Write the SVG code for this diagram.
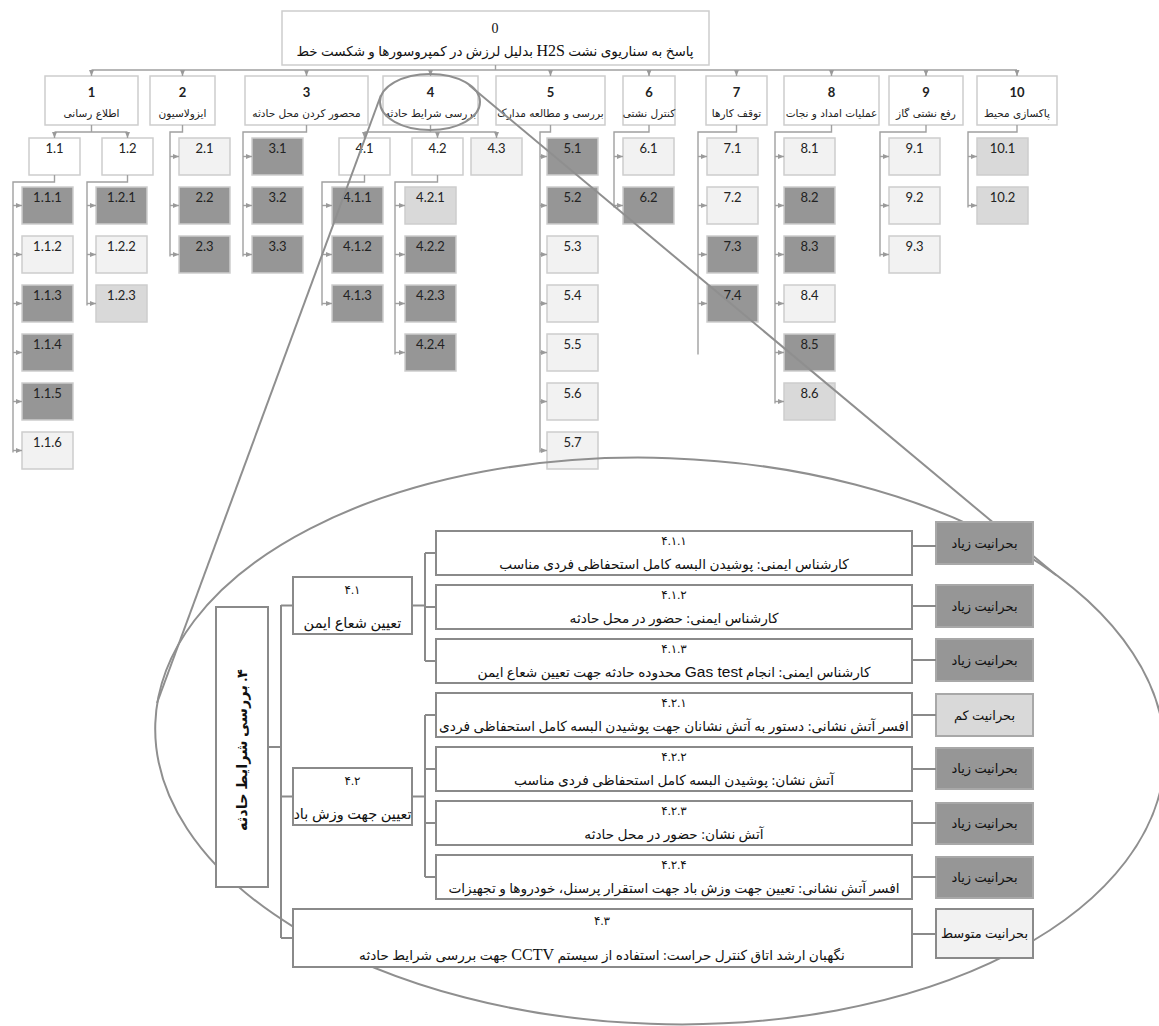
<svg xmlns="http://www.w3.org/2000/svg" width="1159" height="1026" viewBox="0 0 1159 1026">
<defs>
<marker id="ar" viewBox="0 0 6 6" refX="6" refY="3" markerWidth="6" markerHeight="6" markerUnits="userSpaceOnUse" orient="auto"><path d="M0,0.5 L6,3 L0,5.5 z" fill="#9a9a9a"/></marker>
<style>
.b{stroke:#cdcdcd;stroke-width:1.5}
.w{fill:#ffffff}.l{fill:#f2f2f2}.m{fill:#d9d9d9}.d{fill:#969696}
.n{font-family:Lato,'Open Sans',sans-serif;font-size:13px;fill:#222;text-anchor:middle}
.n1{font-family:Lato,'Open Sans',sans-serif;font-size:13px;font-weight:bold;fill:#222;text-anchor:middle}
.fa{font-family:'DejaVu Sans',sans-serif;font-size:10.5px;fill:#222;text-anchor:middle;direction:rtl}
.c{fill:none;stroke:#a0a0a0;stroke-width:1.4}
.a{fill:none;stroke:#a0a0a0;stroke-width:1.4;marker-end:url(#ar)}
.ib{fill:#fff;stroke:#8a8a8a;stroke-width:2}
.ic{fill:none;stroke:#8a8a8a;stroke-width:2}
.it{font-family:'Liberation Serif','DejaVu Sans',serif;font-size:12px;fill:#111;text-anchor:middle;direction:rtl}
.tx{font-size:13.7px}
.sv{font-size:13px}
.sd{fill:#969696;stroke:#a8a8a8;stroke-width:2}
.sm{fill:#d9d9d9;stroke:#a8a8a8;stroke-width:2}
.sl{fill:#f2f2f2;stroke:#8a8a8a;stroke-width:2}
.zo{fill:none;stroke:#8f8f8f;stroke-width:2}
</style>
</defs>

<!-- root -->
<g id="n0">
<rect x="282" y="11" width="427" height="54" class="b w"/>
<text x="495" y="33" font-family="'Liberation Serif',serif" font-size="14" text-anchor="middle" fill="#111">0</text>
<text x="495" y="56" class="it" style="font-size:13.5px">پاسخ به سناریوی نشت <tspan font-family="'Liberation Serif',serif" font-size="16">H2S</tspan> بدلیل لرزش در کمپروسورها و شکست خط</text>
</g>

<!-- level 1 -->
<g id="n1"><rect x="45" y="76" width="93" height="49" class="b w"/><text x="91.5" y="97" class="n1">1</text><text x="91.5" y="117" class="fa">اطلاع رسانی</text></g>
<g id="n2"><rect x="150" y="76" width="65" height="49" class="b w"/><text x="182.5" y="97" class="n1">2</text><text x="182.5" y="117" class="fa">ایزولاسیون</text></g>
<g id="n3"><rect x="245" y="76" width="123" height="49" class="b w"/><text x="306.5" y="97" class="n1">3</text><text x="306.5" y="117" class="fa">محصور کردن محل حادثه</text></g>
<g id="n4"><rect x="383" y="76" width="95" height="49" class="b w"/><text x="430.5" y="97" class="n1">4</text><text x="430.5" y="117" class="fa">بررسی شرایط حادثه</text></g>
<g id="n5"><rect x="496" y="76" width="109" height="49" class="b w"/><text x="550.5" y="97" class="n1">5</text><text x="550.5" y="117" class="fa">بررسی و مطالعه مدارک</text></g>
<g id="n6"><rect x="623" y="76" width="52" height="49" class="b w"/><text x="649" y="97" class="n1">6</text><text x="649" y="117" class="fa">کنترل نشتی</text></g>
<g id="n7"><rect x="706" y="76" width="61" height="49" class="b w"/><text x="736.5" y="97" class="n1">7</text><text x="736.5" y="117" class="fa">توقف کارها</text></g>
<g id="n8"><rect x="784" y="76" width="95" height="49" class="b w"/><text x="831.5" y="97" class="n1">8</text><text x="831.5" y="117" class="fa">عملیات امداد و نجات</text></g>
<g id="n9"><rect x="889" y="76" width="74" height="49" class="b w"/><text x="926" y="97" class="n1">9</text><text x="926" y="117" class="fa">رفع نشتی گاز</text></g>
<g id="n10"><rect x="977" y="76" width="80" height="49" class="b w"/><text x="1017" y="97" class="n1">10</text><text x="1017" y="117" class="fa">پاکسازی محیط</text></g>

<!-- level 2/3 boxes -->
<g id="n1.1"><rect x="29" y="138" width="51" height="37" class="b w"/><text x="54.5" y="153" class="n">1.1</text></g>
<g id="n1.2"><rect x="102" y="138" width="51" height="37" class="b w"/><text x="127.5" y="153" class="n">1.2</text></g>
<g id="n1.1.1"><rect x="22" y="187" width="51" height="37" class="b d"/><text x="47.5" y="202" class="n">1.1.1</text></g>
<g id="n1.1.2"><rect x="22" y="236" width="51" height="37" class="b l"/><text x="47.5" y="251" class="n">1.1.2</text></g>
<g id="n1.1.3"><rect x="22" y="285" width="51" height="37" class="b d"/><text x="47.5" y="300" class="n">1.1.3</text></g>
<g id="n1.1.4"><rect x="22" y="334" width="51" height="37" class="b d"/><text x="47.5" y="349" class="n">1.1.4</text></g>
<g id="n1.1.5"><rect x="22" y="383" width="51" height="37" class="b d"/><text x="47.5" y="398" class="n">1.1.5</text></g>
<g id="n1.1.6"><rect x="22" y="432" width="51" height="37" class="b l"/><text x="47.5" y="447" class="n">1.1.6</text></g>
<g id="n1.2.1"><rect x="96" y="187" width="51" height="37" class="b d"/><text x="121.5" y="202" class="n">1.2.1</text></g>
<g id="n1.2.2"><rect x="96" y="236" width="51" height="37" class="b l"/><text x="121.5" y="251" class="n">1.2.2</text></g>
<g id="n1.2.3"><rect x="96" y="285" width="51" height="37" class="b m"/><text x="121.5" y="300" class="n">1.2.3</text></g>
<g id="n2.1"><rect x="179" y="138" width="51" height="37" class="b l"/><text x="204.5" y="153" class="n">2.1</text></g>
<g id="n2.2"><rect x="179" y="187" width="51" height="37" class="b d"/><text x="204.5" y="202" class="n">2.2</text></g>
<g id="n2.3"><rect x="179" y="236" width="51" height="37" class="b d"/><text x="204.5" y="251" class="n">2.3</text></g>
<g id="n3.1"><rect x="252" y="138" width="51" height="37" class="b d"/><text x="277.5" y="153" class="n">3.1</text></g>
<g id="n3.2"><rect x="252" y="187" width="51" height="37" class="b d"/><text x="277.5" y="202" class="n">3.2</text></g>
<g id="n3.3"><rect x="252" y="236" width="51" height="37" class="b d"/><text x="277.5" y="251" class="n">3.3</text></g>
<g id="n4.1"><rect x="339" y="138" width="51" height="37" class="b w"/><text x="364.5" y="153" class="n">4.1</text></g>
<g id="n4.2"><rect x="412" y="138" width="51" height="37" class="b w"/><text x="437.5" y="153" class="n">4.2</text></g>
<g id="n4.3"><rect x="471" y="138" width="51" height="37" class="b l"/><text x="496.5" y="153" class="n">4.3</text></g>
<g id="n4.1.1"><rect x="332" y="187" width="51" height="37" class="b d"/><text x="357.5" y="202" class="n">4.1.1</text></g>
<g id="n4.1.2"><rect x="332" y="236" width="51" height="37" class="b d"/><text x="357.5" y="251" class="n">4.1.2</text></g>
<g id="n4.1.3"><rect x="332" y="285" width="51" height="37" class="b d"/><text x="357.5" y="300" class="n">4.1.3</text></g>
<g id="n4.2.1"><rect x="405" y="187" width="51" height="37" class="b m"/><text x="430.5" y="202" class="n">4.2.1</text></g>
<g id="n4.2.2"><rect x="405" y="236" width="51" height="37" class="b d"/><text x="430.5" y="251" class="n">4.2.2</text></g>
<g id="n4.2.3"><rect x="405" y="285" width="51" height="37" class="b d"/><text x="430.5" y="300" class="n">4.2.3</text></g>
<g id="n4.2.4"><rect x="405" y="334" width="51" height="37" class="b d"/><text x="430.5" y="349" class="n">4.2.4</text></g>
<g id="n5.1"><rect x="547" y="138" width="51" height="37" class="b d"/><text x="572.5" y="153" class="n">5.1</text></g>
<g id="n5.2"><rect x="547" y="187" width="51" height="37" class="b d"/><text x="572.5" y="202" class="n">5.2</text></g>
<g id="n5.3"><rect x="547" y="236" width="51" height="37" class="b l"/><text x="572.5" y="251" class="n">5.3</text></g>
<g id="n5.4"><rect x="547" y="285" width="51" height="37" class="b l"/><text x="572.5" y="300" class="n">5.4</text></g>
<g id="n5.5"><rect x="547" y="334" width="51" height="37" class="b l"/><text x="572.5" y="349" class="n">5.5</text></g>
<g id="n5.6"><rect x="547" y="383" width="51" height="37" class="b l"/><text x="572.5" y="398" class="n">5.6</text></g>
<g id="n5.7"><rect x="547" y="432" width="51" height="37" class="b l"/><text x="572.5" y="447" class="n">5.7</text></g>
<g id="n6.1"><rect x="623" y="138" width="51" height="37" class="b l"/><text x="648.5" y="153" class="n">6.1</text></g>
<g id="n6.2"><rect x="623" y="187" width="51" height="37" class="b d"/><text x="648.5" y="202" class="n">6.2</text></g>
<g id="n7.1"><rect x="707" y="138" width="51" height="37" class="b l"/><text x="732.5" y="153" class="n">7.1</text></g>
<g id="n7.2"><rect x="707" y="187" width="51" height="37" class="b l"/><text x="732.5" y="202" class="n">7.2</text></g>
<g id="n7.3"><rect x="707" y="236" width="51" height="37" class="b d"/><text x="732.5" y="251" class="n">7.3</text></g>
<g id="n7.4"><rect x="707" y="285" width="51" height="37" class="b d"/><text x="732.5" y="300" class="n">7.4</text></g>
<g id="n8.1"><rect x="784" y="138" width="51" height="37" class="b l"/><text x="809.5" y="153" class="n">8.1</text></g>
<g id="n8.2"><rect x="784" y="187" width="51" height="37" class="b d"/><text x="809.5" y="202" class="n">8.2</text></g>
<g id="n8.3"><rect x="784" y="236" width="51" height="37" class="b d"/><text x="809.5" y="251" class="n">8.3</text></g>
<g id="n8.4"><rect x="784" y="285" width="51" height="37" class="b l"/><text x="809.5" y="300" class="n">8.4</text></g>
<g id="n8.5"><rect x="784" y="334" width="51" height="37" class="b d"/><text x="809.5" y="349" class="n">8.5</text></g>
<g id="n8.6"><rect x="784" y="383" width="51" height="37" class="b m"/><text x="809.5" y="398" class="n">8.6</text></g>
<g id="n9.1"><rect x="889" y="138" width="51" height="37" class="b l"/><text x="914.5" y="153" class="n">9.1</text></g>
<g id="n9.2"><rect x="889" y="187" width="51" height="37" class="b l"/><text x="914.5" y="202" class="n">9.2</text></g>
<g id="n9.3"><rect x="889" y="236" width="51" height="37" class="b l"/><text x="914.5" y="251" class="n">9.3</text></g>
<g id="n10.1"><rect x="977" y="138" width="51" height="37" class="b m"/><text x="1002.5" y="153" class="n">10.1</text></g>
<g id="n10.2"><rect x="977" y="187" width="51" height="37" class="b m"/><text x="1002.5" y="202" class="n">10.2</text></g>

<!-- connectors of the tree -->
<g id="connectors">
<path class="c" d="M495.5,65 V70 M91.5,70 H1017"/>
<path class="a" d="M91.5,70 V76"/><path class="a" d="M182.5,70 V76"/><path class="a" d="M306.5,70 V76"/><path class="a" d="M430.5,70 V76"/><path class="a" d="M550.5,70 V76"/><path class="a" d="M649,70 V76"/><path class="a" d="M736.5,70 V76"/><path class="a" d="M831.5,70 V76"/><path class="a" d="M926,70 V76"/><path class="a" d="M1017,70 V76"/>
<path class="c" d="M91.5,125 V132 M54.5,132 H127.5"/>
<path class="a" d="M54.5,132 V138"/><path class="a" d="M127.5,132 V138"/>
<path class="c" d="M182.5,125 V132 H170 V256.5"/>
<path class="a" d="M170,156.5 H179"/><path class="a" d="M170,205.5 H179"/><path class="a" d="M170,254.5 H179"/>
<path class="c" d="M306.5,125 V132 H243 V256.5"/>
<path class="a" d="M243,156.5 H252"/><path class="a" d="M243,205.5 H252"/><path class="a" d="M243,254.5 H252"/>
<path class="c" d="M430.5,125 V132 M364.5,132 H496.5"/>
<path class="a" d="M364.5,132 V138"/><path class="a" d="M437.5,132 V138"/><path class="a" d="M496.5,132 V138"/>
<path class="c" d="M550.5,125 V132 H540 V452.5"/>
<path class="a" d="M540,156.5 H547"/><path class="a" d="M540,205.5 H547"/><path class="a" d="M540,254.5 H547"/><path class="a" d="M540,303.5 H547"/><path class="a" d="M540,352.5 H547"/><path class="a" d="M540,401.5 H547"/><path class="a" d="M540,450.5 H547"/>
<path class="c" d="M649,125 V132 H614 V207.5"/>
<path class="a" d="M614,156.5 H623"/><path class="a" d="M614,205.5 H623"/>
<path class="c" d="M736.5,125 V132 H698 V354.5"/>
<path class="a" d="M698,156.5 H707"/><path class="a" d="M698,205.5 H707"/><path class="a" d="M698,254.5 H707"/><path class="a" d="M698,303.5 H707"/>
<path class="c" d="M831.5,125 V132 H775 V403.5"/>
<path class="a" d="M775,156.5 H784"/><path class="a" d="M775,205.5 H784"/><path class="a" d="M775,254.5 H784"/><path class="a" d="M775,303.5 H784"/><path class="a" d="M775,352.5 H784"/><path class="a" d="M775,401.5 H784"/>
<path class="c" d="M926,125 V132 H880 V256.5"/>
<path class="a" d="M880,156.5 H889"/><path class="a" d="M880,205.5 H889"/><path class="a" d="M880,254.5 H889"/>
<path class="c" d="M1017,125 V132 H968 V207.5"/>
<path class="a" d="M968,156.5 H977"/><path class="a" d="M968,205.5 H977"/>
<path class="c" d="M54.5,175 V182 H13 V452.5"/>
<path class="a" d="M13,205.5 H22"/><path class="a" d="M13,254.5 H22"/><path class="a" d="M13,303.5 H22"/><path class="a" d="M13,352.5 H22"/><path class="a" d="M13,401.5 H22"/><path class="a" d="M13,450.5 H22"/>
<path class="c" d="M127.5,175 V182 H87 V305.5"/>
<path class="a" d="M87,205.5 H96"/><path class="a" d="M87,254.5 H96"/><path class="a" d="M87,303.5 H96"/>
<path class="c" d="M364.5,175 V182 H322 V305.5"/>
<path class="a" d="M322,205.5 H332"/><path class="a" d="M322,254.5 H332"/><path class="a" d="M322,303.5 H332"/>
<path class="c" d="M437.5,175 V182 H395 V354.5"/>
<path class="a" d="M395,205.5 H405"/><path class="a" d="M395,254.5 H405"/><path class="a" d="M395,303.5 H405"/><path class="a" d="M395,352.5 H405"/>
</g>

<!-- zoom ellipses -->
<g id="zoom">
<ellipse cx="430" cy="102" rx="50" ry="28" class="zo" stroke-width="2.5"/>
<ellipse cx="660" cy="741" rx="505" ry="283" transform="rotate(2 660 741)" class="zo"/>
<path class="zo" d="M381,95 L157,703"/>
<path class="zo" d="M469,85 L1056,575"/>
</g>

<!-- detail view -->
<g id="d4">
<rect x="216" y="607" width="52" height="280" class="ib"/>
<text transform="translate(247,750) rotate(-90)" class="it" style="font-size:14.5px;font-weight:bold">۴. بررسی شرایط حادثه</text>
</g>
<g id="d4.1"><rect x="293" y="577" width="119" height="57" class="ib"/><text x="352.5" y="594" class="it">۴.۱</text><text x="352.5" y="628" class="it" style="font-size:14.5px">تعیین شعاع ایمن</text></g>
<g id="d4.2"><rect x="293" y="768" width="119" height="57" class="ib"/><text x="352.5" y="785" class="it">۴.۲</text><text x="352.5" y="819" class="it" style="font-size:14.5px">تعیین جهت وزش باد</text></g>
<g id="d4.1.1"><rect x="436" y="531" width="476" height="44" class="ib"/><text x="674" y="545" class="it">۴.۱.۱</text><text x="674" y="569" class="it tx">کارشناس ایمنی: پوشیدن البسه کامل استحفاظی فردی مناسب</text></g>
<g id="d4.1.2"><rect x="436" y="585" width="476" height="44" class="ib"/><text x="674" y="599" class="it">۴.۱.۲</text><text x="674" y="623" class="it tx">کارشناس ایمنی: حضور در محل حادثه</text></g>
<g id="d4.1.3"><rect x="436" y="639" width="476" height="44" class="ib"/><text x="674" y="653" class="it">۴.۱.۳</text><text x="674" y="677" class="it tx">کارشناس ایمنی: انجام <tspan font-family="'Liberation Sans',sans-serif" font-size="15.5">Gas test</tspan> محدوده حادثه جهت تعیین شعاع ایمن</text></g>
<g id="d4.2.1"><rect x="436" y="693" width="476" height="44" class="ib"/><text x="674" y="707" class="it">۴.۲.۱</text><text x="674" y="731" class="it tx">افسر آتش نشانی: دستور به آتش نشانان جهت پوشیدن البسه کامل استحفاظی فردی</text></g>
<g id="d4.2.2"><rect x="436" y="747" width="476" height="44" class="ib"/><text x="674" y="761" class="it">۴.۲.۲</text><text x="674" y="785" class="it tx">آتش نشان: پوشیدن البسه کامل استحفاظی فردی مناسب</text></g>
<g id="d4.2.3"><rect x="436" y="801" width="476" height="44" class="ib"/><text x="674" y="815" class="it">۴.۲.۳</text><text x="674" y="839" class="it tx">آتش نشان: حضور در محل حادثه</text></g>
<g id="d4.2.4"><rect x="436" y="855" width="476" height="44" class="ib"/><text x="674" y="869" class="it">۴.۲.۴</text><text x="674" y="893" class="it tx">افسر آتش نشانی: تعیین جهت وزش باد جهت استقرار پرسنل، خودروها و تجهیزات</text></g>
<g id="d4.3"><rect x="293" y="909" width="619" height="58" class="ib"/><text x="602" y="925" class="it">۴.۳</text><text x="602" y="960" class="it tx">نگهبان ارشد اتاق کنترل حراست: استفاده از سیستم <tspan font-size="16">CCTV</tspan> جهت بررسی شرایط حادثه</text></g>

<g id="s1"><rect x="936" y="522" width="97" height="42" class="sd"/><text x="984.5" y="548" class="it sv">بحرانیت زیاد</text></g>
<g id="s2"><rect x="936" y="585" width="97" height="42" class="sd"/><text x="984.5" y="611" class="it sv">بحرانیت زیاد</text></g>
<g id="s3"><rect x="936" y="639" width="97" height="42" class="sd"/><text x="984.5" y="665" class="it sv">بحرانیت زیاد</text></g>
<g id="s4"><rect x="936" y="694" width="97" height="42" class="sm"/><text x="984.5" y="720" class="it sv">بحرانیت کم</text></g>
<g id="s5"><rect x="936" y="748" width="97" height="41" class="sd"/><text x="984.5" y="773" class="it sv">بحرانیت زیاد</text></g>
<g id="s6"><rect x="936" y="803" width="97" height="41" class="sd"/><text x="984.5" y="828" class="it sv">بحرانیت زیاد</text></g>
<g id="s7"><rect x="936" y="857" width="97" height="41" class="sd"/><text x="984.5" y="882" class="it sv">بحرانیت زیاد</text></g>
<g id="s8"><rect x="936" y="909" width="97" height="49" class="sl"/><text x="984.5" y="938" class="it sv">بحرانیت متوسط</text></g>

<g id="detail-connectors">
<path class="ic" d="M268,747 H281 M281,605 V938 M281,605.5 H293 M281,796.5 H293 M281,938 H293"/>
<path class="ic" d="M412,605.5 H425 M425,553 V661 M425,553 H436 M425,607 H436 M425,661 H436"/>
<path class="ic" d="M412,796.5 H425 M425,715 V877 M425,715 H436 M425,769 H436 M425,823 H436 M425,877 H436"/>
<path class="ic" d="M912,546 H936 M912,606 H936 M912,660 H936 M912,715 H936 M912,769 H936 M912,823 H936 M912,877 H936 M912,934 H936"/>
</g>
</svg>
